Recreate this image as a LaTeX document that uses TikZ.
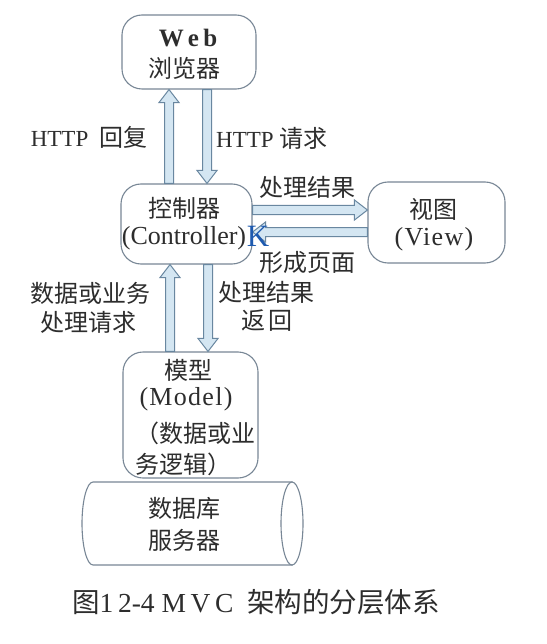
\documentclass[tikz,border=0pt]{standalone}
\usepackage{fontspec}
\setmainfont{Liberation Serif}
\newfontfamily\cjk{Noto Sans CJK SC}
\newfontfamily\spaced[LetterSpace=5]{Liberation Serif}
\usetikzlibrary{calc}
\definecolor{boxline}{RGB}{120,135,150}
\definecolor{arrline}{RGB}{105,135,160}
\definecolor{arrfill}{RGB}{212,230,242}
\definecolor{txt}{RGB}{45,45,45}
\definecolor{kblue}{RGB}{30,90,175}
\newcommand\blkv[3]{%
 \draw[blk] let \p1=(#2), \p2=(#3), \n1={sign(\y2-\y1)} in
 ({#1pt-4.5pt},\y1) -- ({#1pt-4.5pt},{\y2-\n1*13pt}) -- ({#1pt-10pt},{\y2-\n1*13pt}) -- (#1pt,\y2)
 -- ({#1pt+10pt},{\y2-\n1*13pt}) -- ({#1pt+4.5pt},{\y2-\n1*13pt}) -- ({#1pt+4.5pt},\y1) -- cycle;}
\newcommand\blkh[3]{%
 \draw[blk] let \p1=(#2), \p2=(#3), \n1={sign(\x2-\x1)} in
 (\x1,{-#1pt+4.5pt}) -- ({\x2-\n1*13pt},{-#1pt+4.5pt}) -- ({\x2-\n1*13pt},{-#1pt+10pt}) -- (\x2,-#1pt)
 -- ({\x2-\n1*13pt},{-#1pt-10pt}) -- ({\x2-\n1*13pt},{-#1pt-4.5pt}) -- (\x1,{-#1pt-4.5pt}) -- cycle;}
\begin{document}
\begin{tikzpicture}[x=1pt,y=-1pt,
  box/.style={draw=boxline, line width=1.1pt, rounded corners=20pt, fill=white, inner sep=0pt},
  blk/.style={draw=arrline, line width=1pt, fill=arrfill, line join=miter},
  lbl/.style={text=txt, inner sep=0pt, font=\fontsize{23}{27}\selectfont},
  big/.style={lbl, font=\fontsize{26}{30}\selectfont\spaced},
  cj/.style={lbl, font=\fontsize{24}{28}\selectfont\cjk}]
\useasboundingbox (0,0) rectangle (546,644);
\fill[white] (0,0) rectangle (546,644);
% boxes
\node[box, minimum width=134pt, minimum height=74pt] (web) at (189,52) {};
\node[box, minimum width=131pt, minimum height=80pt] (ctrl) at (186.5,224) {};
\node[box, minimum width=137pt, minimum height=81pt] (view) at (436.5,222.5) {};
\node[box, minimum width=135pt, minimum height=126pt] (model) at (190.5,415) {};
% database cylinder
\draw[boxline, line width=1.1pt, fill=white] (93,482) arc[start angle=-90, end angle=-270, x radius=11, y radius=41.5] -- (292,565) -- (292,482) -- cycle;
\draw[boxline, line width=1.1pt, fill=white] (292,523.5) ellipse[x radius=11, y radius=41.5];
\node[cj] (db1) at (184,508) {数据库};
\node[cj] (db2) at (184,540) {服务器};
% box texts
\node[lbl, font=\fontsize{25}{28}\selectfont\bfseries] (webt) at (188,38) {W\,e\,b};
\node[cj] (webt2) at (184,68) {浏览器};
\node[cj] (ctrlt) at (184,208) {控制器};
\node[lbl, font=\fontsize{26}{30}\selectfont] (ctrlt2) at (184,238) {(Controller)};
\node[cj] (viewt) at (433,209) {视图};
\node[big] (viewt2) at (434,239) {(View)};
\node[cj] (modt) at (188,370) {模型};
\node[big] (modt2) at (186,399) {(Model)};
\node[cj, anchor=west] (modt3) at (135,433) {（数据或业};
\node[cj, anchor=west] (modt4) at (135,464) {务逻辑）};
% arrows
\blkv{169}{ctrl.north}{web.south}
\blkv{207}{web.south}{ctrl.north}
\blkh{210}{ctrl.east}{view.west}
\blkh{232}{view.west}{ctrl.east}
\blkv{170}{model.north}{ctrl.south}
\blkv{208}{ctrl.south}{model.north}
% labels
\node[lbl, anchor=east] (l1) at (148,137) {HTTP\ \ {\cjk\fontsize{24}{28}\selectfont 回复}};
\node[lbl, anchor=west] (l2) at (216,138) {HTTP {\cjk\fontsize{24}{28}\selectfont 请求}};
\node[cj] (l3) at (307,187) {处理结果};
\node[cj] (l4) at (307,262) {形成页面};
\node[cj] (l5) at (90,293) {数据或业务};
\node[cj] (l6) at (88,322) {处理请求};
\node[cj] (l7) at (266,292) {处理结果};
\node[cj] (l8) at (267,321) {返\,回};
\node[lbl, text=kblue, font=\fontsize{31}{33}\selectfont] (k) at (258,236) {K};
% caption
\node[lbl, anchor=west, font=\fontsize{27.5}{31}\selectfont] (cap) at (72,602) {{\cjk 图}1\,2-4 M\,V\,C\ \ {\cjk 架构的分层体系}};
\end{tikzpicture}
\end{document}
